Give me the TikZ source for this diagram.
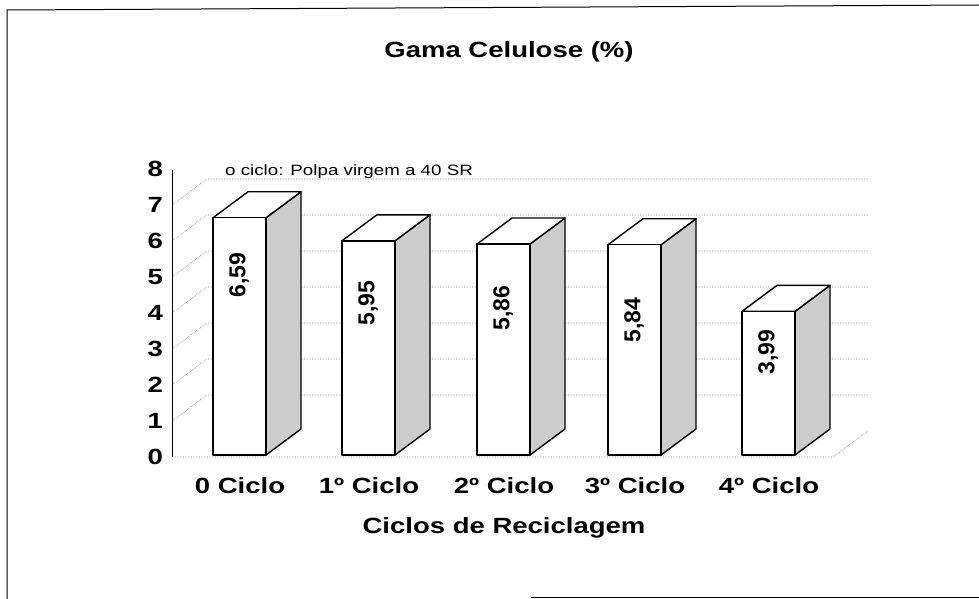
\documentclass[tikz,border=0pt]{standalone}
\usepackage{fontspec}
\newfontfamily\chartfont{Liberation Sans}[FakeStretch=1.25]
\newfontfamily\valuefont{Liberation Sans}

\begin{document}
\begin{tikzpicture}[x=1pt, y=-1pt, line join=round]
    \tikzset{gridline/.style={densely dotted, gray, line width=0.6pt},
        front/.style={draw, line width=1.4pt, fill=white},
        side/.style={draw, line width=1.4pt, fill=gray!40},
        label/.style={font=\chartfont\bfseries\fontsize{22}{24}\selectfont, inner sep=0pt},
        value/.style={font=\valuefont\bfseries\fontsize{23}{24}\selectfont, rotate=90, inner sep=0pt}}
    \useasboundingbox (0,0) rectangle (979,599);
    % frame of the scan
    \draw[line width=1pt] (7,599) -- (7,10) -- (979,5);
    \draw[line width=1pt] (531,597) -- (979,597);
    % walls and floor
    \foreach \k in {1,...,7}
        \draw[gridline] (172,{457-36*\k}) -- (207,{431-36*\k}) -- (868,{431-36*\k});
    \draw[gridline] (172,457) -- (833,457) -- (868,431);
    \draw[line width=0.6pt] (172,457) -- (172,170);
    \foreach \k in {0,...,8}
        \node[label, anchor=east] (y\k) at (163,{457-36*\k}) {\k};
    % bars
    \foreach \x/\v/\t/\ly/\c [count=\i from 0] in
        {213/6.59/{6,59}/275/{0 Ciclo}, 342/5.95/{5,95}/303/{1º Ciclo},
         477/5.86/{5,86}/308/{2º Ciclo}, 608/5.84/{5,84}/320/{3º Ciclo},
         742/3.99/{3,99}/352/{4º Ciclo}} {
        \pgfmathsetmacro\top{455-36*\v}
        \draw[side] (\x+53,455) -- (\x+88,429) -- (\x+88,\top-26) -- (\x+53,\top) -- cycle;
        \draw[front] (\x+53,\top) -- (\x+88,\top-26) -- (\x+35,\top-26) -- (\x,\top) -- cycle;
        \draw[front] (\x,455) rectangle (\x+53,\top);
        \node[value] (v\i) at (\x+26,\ly) {\t};
        \node[label, anchor=base] (c\i) at (\x+27,493) {\c};
    }
    \node[font=\chartfont\fontsize{15}{17}\selectfont, anchor=base west, inner sep=0pt]
        (note) at (225,175) {o ciclo: Polpa virgem a 40 SR};
    \node[label, anchor=base] (title) at (509,58) {Gama Celulose (\%)};
    \node[label, anchor=base] (xtitle) at (504,533) {Ciclos de Reciclagem};
\end{tikzpicture}
\end{document}
